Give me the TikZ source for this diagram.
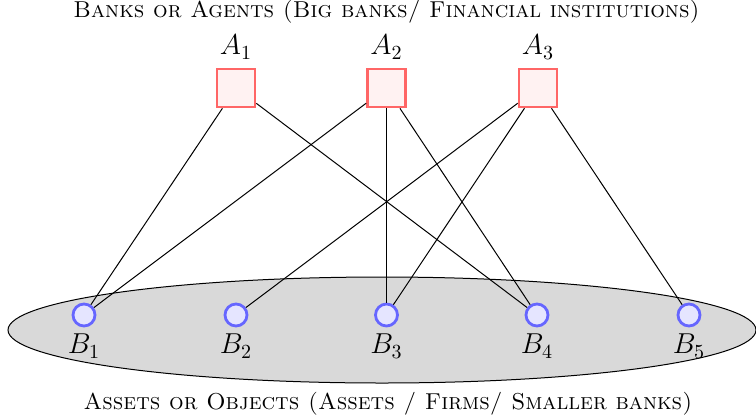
\documentclass[tikz,border=0pt]{standalone}
\begin{document}
\begin{tikzpicture}[x=0.5pt,y=-0.5pt,
  every node/.style={font=\fontsize{11.5pt}{14pt}\selectfont},
  lbl/.style={font=\fontsize{14pt}{17pt}\selectfont, inner sep=0pt},
  agent/.style={draw=red!60, fill=red!5, line width=1.3pt, minimum size=19pt, inner sep=0pt},
  asset/.style={circle, draw=blue!60, fill=blue!10, line width=1.4pt, minimum size=11pt, inner sep=0pt},
  edge/.style={line width=0.5pt, black}]
\useasboundingbox (0,0) rectangle (756,419);
\fill[gray!30] (382,330) ellipse [x radius=374, y radius=53];
\draw[line width=0.5pt] (382,330) ellipse [x radius=374, y radius=53];
\node (top) at (386.5,12) {\textsc{Banks or Agents (Big banks/ Financial institutions)}};
\node (bottom) at (388,404) {\textsc{Assets or Objects (Assets / Firms/ Smaller banks)}};
\node[agent] (A1) at (236,88) {};
\node[agent] (A2) at (386.5,88) {};
\node[agent] (A3) at (538,88) {};
\node[lbl] (lA1) at (236,47) {$A_1$};
\node[lbl] (lA2) at (386.5,47) {$A_2$};
\node[lbl] (lA3) at (538,47) {$A_3$};
\node[asset] (B1) at (84,315) {};
\node[asset] (B2) at (236,315) {};
\node[asset] (B3) at (386.5,315) {};
\node[asset] (B4) at (537,315) {};
\node[asset] (B5) at (689,315) {};
\node[lbl] (lB1) at (84,346) {$B_1$};
\node[lbl] (lB2) at (236,346) {$B_2$};
\node[lbl] (lB3) at (386.5,346) {$B_3$};
\node[lbl] (lB4) at (537,346) {$B_4$};
\node[lbl] (lB5) at (689,346) {$B_5$};
\draw[edge] (A1) -- (B1);
\draw[edge] (A1) -- (B4);
\draw[edge] (A2) -- (B1);
\draw[edge] (A2) -- (B3);
\draw[edge] (A2) -- (B4);
\draw[edge] (A3) -- (B2);
\draw[edge] (A3) -- (B3);
\draw[edge] (A3) -- (B5);
\end{tikzpicture}
\end{document}
